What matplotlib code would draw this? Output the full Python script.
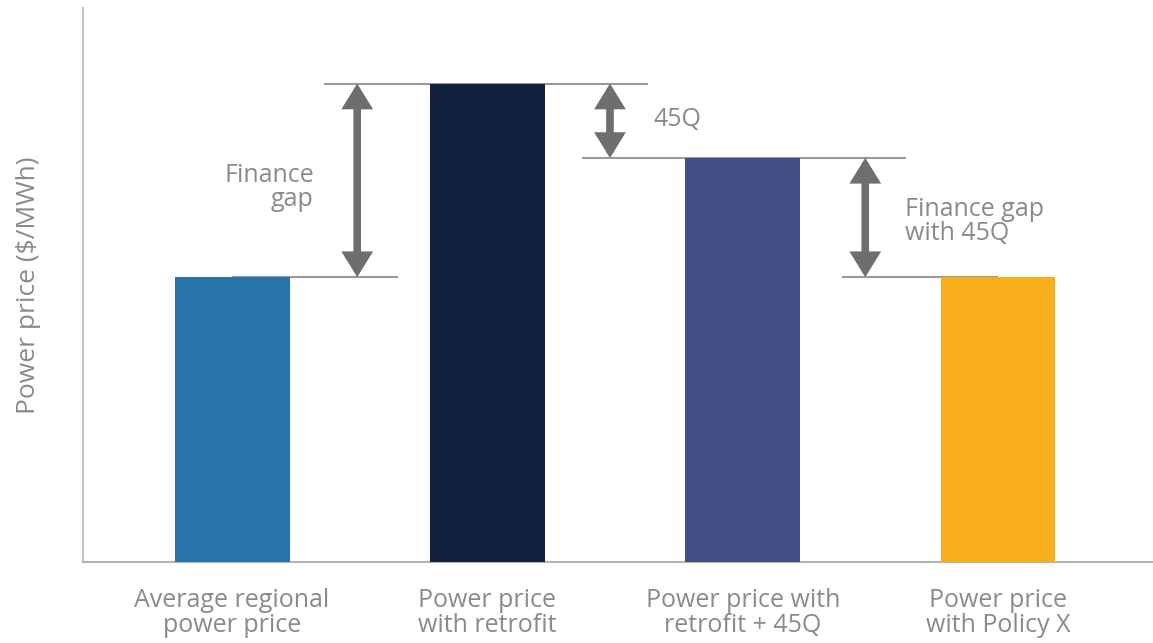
import matplotlib.pyplot as plt
from matplotlib.patches import FancyArrowPatch

plt.rcParams['font.family'] = ['Open Sans', 'DejaVu Sans']

categories = ["Average regional\npower price", "Power price\nwith retrofit",
              "Power price with\nretrofit + 45Q", "Power price\nwith Policy X"]
prices = [51.4, 86.3, 72.9, 51.4]
colors = ['#2873a8', '#13213f', '#444e85', '#f8ae1a']

text_gray = '#8a8a8a'
line_gray = '#9a9a9a'
arrow_gray = '#6e6e6e'

fig = plt.figure(figsize=(11.53, 6.43), dpi=100)
ax = fig.add_axes([0.072, 0.126, 0.928, 0.862])

x = list(range(len(categories)))
ax.bar(x, prices, width=0.45, color=colors, zorder=3)

ax.set_xlim(-0.584, 3.607)
ax.set_ylim(0, 100)

# reference lines at bar tops
ax.hlines(prices[0], x[0], x[0] + 0.65, color=line_gray, lw=1.5, zorder=2)
ax.hlines(prices[1], x[1] - 0.64, x[1] + 0.63, color=line_gray, lw=1.5, zorder=2)
ax.hlines(prices[2], x[2] - 0.63, x[2] + 0.64, color=line_gray, lw=1.5, zorder=2)
ax.hlines(prices[3], x[3] - 0.61, x[3], color=line_gray, lw=1.5, zorder=2)


def gap_arrow(xpos, lo, hi):
    arr = FancyArrowPatch((xpos, lo), (xpos, hi),
                          arrowstyle='<|-|>,head_length=10.5,head_width=6.5',
                          mutation_scale=1, lw=5.5, color=arrow_gray,
                          shrinkA=0, shrinkB=0, joinstyle='miter', zorder=4)
    ax.add_patch(arr)


gap_arrow(0.49, prices[0], prices[1])
gap_arrow(1.48, prices[2], prices[1])
gap_arrow(2.48, prices[3], prices[2])

fs = 18
ax.text(0.32, (prices[0] + prices[1]) / 2 - 1.3, "Finance\ngap", ha='right', va='center',
        fontsize=fs, color=text_gray, linespacing=0.95)
ax.text(1.65, (prices[1] + prices[2]) / 2 + 0.2, "45Q", ha='left', va='center',
        fontsize=fs, color=text_gray)
ax.text(2.635, (prices[2] + prices[3]) / 2 - 0.8, "Finance gap\nwith 45Q", ha='left', va='center',
        fontsize=fs, color=text_gray, linespacing=0.95)

ax.set_xticks(x)
ax.set_xticklabels(categories, fontsize=fs, color=text_gray, linespacing=1.0)
ax.tick_params(axis='x', length=0, pad=19)
ax.set_yticks([])
ax.set_ylabel("Power price ($/MWh)", fontsize=fs + 1, color=text_gray, labelpad=30)

for side in ['top', 'right']:
    ax.spines[side].set_visible(False)
ax.spines['left'].set_color('#c8c8c8')
ax.spines['bottom'].set_color('#b4b4b4')
ax.spines['left'].set_linewidth(1.5)
ax.spines['bottom'].set_linewidth(1.5)

fig.savefig('out.png', dpi=100)
